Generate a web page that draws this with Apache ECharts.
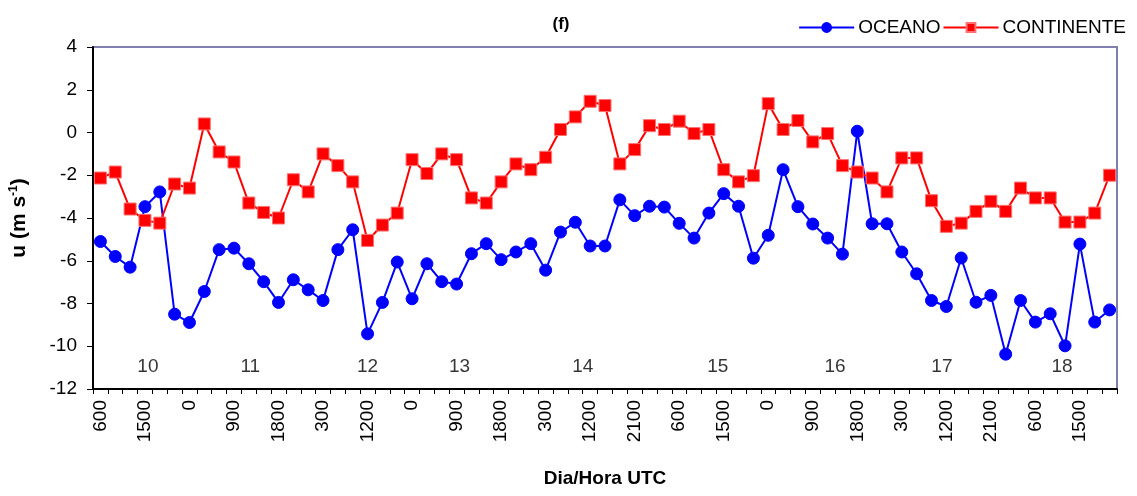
<!DOCTYPE html>
<html>
<head>
<meta charset="utf-8">
<script src="https://cdn.jsdelivr.net/npm/echarts@6/dist/echarts.min.js"></script>
<style>
html,body{margin:0;padding:0;background:#fff;}
#chart{width:1137px;height:496px;}
</style>
</head>
<body>
<div id="chart"></div>
<script>
// Category labels (hour UTC), days 10 to 18
var categories = [
  '600','900','1200','1500','1800','2100',
  '0','300','600','900','1200','1500','1800','2100',
  '0','300','600','900','1200','1800','2100',
  '0','300','600','900','1200','1500','1800','2100',
  '0','300','600','900','1200','1500','1800','2100',
  '0','300','600','900','1200','1500','1800','2100',
  '0','300','600','900','1200','1500','1800','2100',
  '0','300','600','900','1200','1500','1800','2100',
  '0','300','600','900','1200','1500','1800','2100'
];

var oceano = [
  -5.10,-5.80,-6.30,-3.47,-2.78,-8.50,-8.89,-7.44,-5.48,-5.41,
  -6.14,-6.98,-7.95,-6.89,-7.36,-7.86,-5.48,-4.55,-9.42,-7.95,
  -6.06,-7.78,-6.14,-6.98,-7.09,-5.67,-5.20,-5.95,-5.59,-5.20,
  -6.44,-4.66,-4.20,-5.31,-5.31,-3.15,-3.89,-3.45,-3.49,-4.25,
  -4.94,-3.77,-2.86,-3.45,-5.88,-4.81,-1.74,-3.47,-4.28,-4.94,
  -5.69,0.06,-4.27,-4.27,-5.59,-6.61,-7.86,-8.14,-5.87,-7.94,
  -7.62,-10.37,-7.86,-8.87,-8.48,-9.98,-5.22,-8.87,-8.30
];

var continente = [
  -2.13,-1.85,-3.58,-4.11,-4.24,-2.41,-2.60,0.40,-0.91,-1.38,
  -3.30,-3.74,-4.00,-2.21,-2.78,-1.00,-1.55,-2.31,-5.05,-4.33,
  -3.77,-1.27,-1.92,-1.00,-1.27,-3.06,-3.30,-2.31,-1.47,-1.74,
  -1.16,0.14,0.73,1.46,1.26,-1.47,-0.80,0.32,0.14,0.53,
  -0.05,0.14,-1.74,-2.31,-2.02,1.35,0.14,0.56,-0.44,-0.05,
  -1.55,-1.85,-2.13,-2.78,-1.19,-1.19,-3.19,-4.39,-4.24,-3.69,
  -3.22,-3.69,-2.60,-3.06,-3.06,-4.19,-4.19,-3.77,-2.00
];

// Day labels: [position along category index, value, text]
var dayLabels = [
  [3.2,-10.95,'10'],[10.1,-10.95,'11'],[18.0,-10.95,'12'],
  [24.2,-10.95,'13'],[32.5,-10.95,'14'],[41.6,-10.95,'15'],
  [49.5,-10.95,'16'],[56.7,-10.95,'17'],[64.8,-10.95,'18']
];

var yTicks = {min:-12, max:4, interval:2};

var FONT = 'Liberation Sans, Arial, sans-serif';
var chart = echarts.init(document.getElementById('chart'), null, {renderer:'canvas'});
chart.setOption({
  animation: false,
  backgroundColor: '#ffffff',
  title: {
    text: '(f)', left: 556, top: 11, textAlign: 'center',
    textStyle: {fontFamily: FONT, fontSize: 17, fontWeight: 'bold', color: '#000'}
  },
  legend: {
    right: 6, top: 13, itemGap: 2, itemWidth: 55, itemHeight: 11,
    textStyle: {fontFamily: FONT, fontSize: 19, color: '#000', padding: [0,0,0,-1]},
    data: ['OCEANO','CONTINENTE']
  },
  grid: {
    left: 93, right: 20, top: 47, bottom: 107,
    show: true, borderColor: '#8080b0', borderWidth: 2, backgroundColor: '#fff'
  },
  xAxis: [{
    type: 'category', data: categories, boundaryGap: true,
    axisLine: {show: true, onZero: false, lineStyle: {color: '#000', width: 2}},
    axisTick: {show: true, interval: 0, length: 5, lineStyle: {color: '#000', width: 1}},
    axisLabel: {interval: 2, rotate: 90, fontFamily: FONT, fontSize: 19, color: '#000', margin: 11},
    splitLine: {show: false},
    name: 'Dia/Hora UTC', nameLocation: 'middle', nameGap: 80,
    nameTextStyle: {fontFamily: FONT, fontSize: 19, fontWeight: 'bold', color: '#000'}
  },{
    type: 'value', min: -0.5, max: categories.length - 0.5, show: false
  }],
  yAxis: {
    type: 'value', min: yTicks.min, max: yTicks.max, interval: yTicks.interval,
    axisLine: {show: true, onZero: false, lineStyle: {color: '#000', width: 2}},
    axisTick: {show: true, length: 6, lineStyle: {color: '#000', width: 1}},
    axisLabel: {fontFamily: FONT, fontSize: 19, color: '#000', margin: 16},
    splitLine: {show: false},
    name: '{a|u (m s}{b|-1}{a|)}', nameLocation: 'middle', nameGap: 63, nameRotate: 90,
    nameTextStyle: {
      rich: {
        a: {fontFamily: FONT, fontSize: 21, fontWeight: 'bold', color: '#000'},
        b: {fontFamily: FONT, fontSize: 12, fontWeight: 'bold', color: '#000', verticalAlign: 'top', padding: [0,0,10,0]}
      }
    }
  },
  series: [{
    name: 'OCEANO', type: 'line', data: oceano,
    symbol: 'circle', symbolSize: 12, showAllSymbol: true,
    lineStyle: {color: '#0000ff', width: 2},
    itemStyle: {color: '#0000ff', borderColor: '#0000ff', borderWidth: 1},
    z: 3
  },{
    name: 'CONTINENTE', type: 'line', data: continente,
    symbol: 'rect', symbolSize: 12, showAllSymbol: true,
    lineStyle: {color: '#ff0000', width: 2},
    itemStyle: {color: '#ff0000', borderColor: '#ff7070', borderWidth: 1},
    z: 4
  },{
    name: 'dias', type: 'scatter', xAxisIndex: 1, data: dayLabels,
    symbolSize: 0, silent: true,
    label: {show: true, position: 'inside', formatter: function(p){return p.data[2];},
      fontFamily: FONT, fontSize: 19, color: '#000'},
    z: 5
  }]
});
</script>
</body>
</html>
